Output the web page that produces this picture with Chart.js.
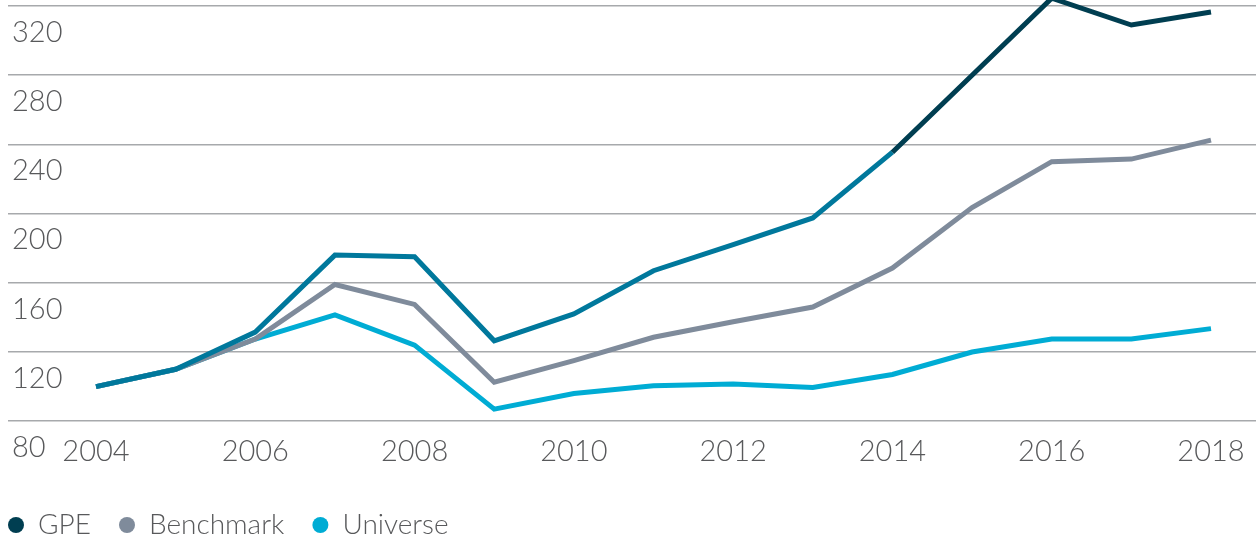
<!DOCTYPE html>
<html>
<head>
<meta charset="utf-8">
<script src="https://cdn.jsdelivr.net/npm/chart.js@4/dist/chart.umd.min.js"></script>
<style>
  html, body { margin: 0; padding: 0; background: #fff; }
  #wrap { width: 1256px; height: 539px; position: relative; }
</style>
</head>
<body>
<div id="wrap"><canvas id="perfChart"></canvas></div>
<script>
const years = [2004, 2005, 2006, 2007, 2008, 2009, 2010, 2011, 2012, 2013, 2014, 2015, 2016, 2017, 2018];
const gpe = [100, 110, 131.5, 176, 175, 126.5, 142, 167, 182, 197.5, 235.5, 280, 324.5, 309, 316.5];
const benchmark = [100, 110, 127.5, 159, 147.5, 102.5, 115, 128.5, 137.5, 146, 168.5, 203.5, 230, 231.5, 242.5];
const universe = [100, 110, 127.5, 141.5, 124, 87, 96, 100.5, 101.5, 99.5, 107, 120, 127.5, 127.5, 133.5];
const yTicks = [80, 120, 160, 200, 240, 280, 320];
const xTicks = [2004, 2006, 2008, 2010, 2012, 2014, 2016, 2018];

const textColor = "#58595b";
const fontFamily = "Lato, 'Open Sans', sans-serif";

function toPoints(values) {
  return years.map((y, i) => ({ x: y, y: values[i] }));
}

// pull the legend row back toward the left edge
const legendShift = {
  id: "legendShift",
  afterLayout(chart) {
    if (chart.legend) chart.legend.left -= 20;
  }
};

const ctx = document.getElementById("perfChart").getContext("2d");

new Chart(ctx, {
  type: "line",
  data: {
    datasets: [
      {
        label: "GPE",
        data: toPoints(gpe),
        borderColor: "#003e51",
        backgroundColor: "#003e51",
        borderWidth: 5,
        pointRadius: 0,
        tension: 0,
        // earlier part of the series in lighter teal
        segment: {
          borderColor: c => c.p0.parsed.x < 2014 ? "#00789c" : "#003e51"
        }
      },
      {
        label: "Benchmark",
        data: toPoints(benchmark),
        borderColor: "#7f8b9b",
        backgroundColor: "#7f8b9b",
        borderWidth: 5,
        pointRadius: 0,
        tension: 0
      },
      {
        label: "Universe",
        data: toPoints(universe),
        borderColor: "#00acd4",
        backgroundColor: "#00acd4",
        borderWidth: 5,
        pointRadius: 0,
        tension: 0
      }
    ]
  },
  options: {
    responsive: true,
    maintainAspectRatio: false,
    animation: false,
    clip: false,
    layout: { padding: { left: 0, top: 6, right: 0, bottom: -10 } },
    scales: {
      x: {
        type: "linear",
        min: 2002.895,
        max: 2018.565,
        afterBuildTicks: axis => { axis.ticks = xTicks.map(v => ({ value: v })); },
        afterFit: axis => { axis.height += 9; },
        grid: { display: false },
        border: { display: false },
        ticks: {
          color: textColor,
          font: { family: fontFamily, size: 29, weight: 300 },
          padding: 5,
          maxRotation: 0,
          autoSkip: false,
          callback: v => String(v)
        }
      },
      y: {
        min: 80,
        max: 320,
        afterBuildTicks: axis => { axis.ticks = yTicks.map(v => ({ value: v })); },
        grid: { color: "#a7a9ac", lineWidth: 1.5, drawTicks: false },
        border: { display: false },
        ticks: {
          mirror: true,
          align: "start",
          padding: 4,
          labelOffset: 12,
          color: textColor,
          font: { family: fontFamily, size: 29, weight: 300 }
        }
      }
    },
    plugins: {
      tooltip: { enabled: false },
      legend: {
        position: "bottom",
        align: "start",
        labels: {
          usePointStyle: true,
          pointStyle: "circle",
          boxWidth: 16,
          boxHeight: 11.31,
          padding: 28,
          color: textColor,
          font: { family: fontFamily, size: 28, weight: 300 },
          generateLabels: chart => Chart.defaults.plugins.legend.labels.generateLabels(chart)
            .map(item => Object.assign(item, { lineWidth: 0 }))
        }
      }
    }
  },
  plugins: [legendShift]
});
</script>
</body>
</html>
